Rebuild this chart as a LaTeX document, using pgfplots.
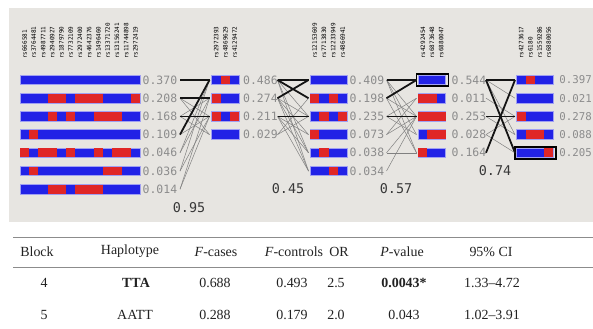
\documentclass[border=0pt]{standalone}
\usepackage{pgfplots}
\pgfplotsset{compat=1.18}
\usepackage{fontspec}
\setmainfont{Liberation Serif}
\newfontfamily\mono{DejaVu Sans Mono}
\definecolor{hb}{HTML}{2222E6}
\definecolor{hr}{HTML}{E02626}
\definecolor{hedge}{HTML}{A0A0F2}
\definecolor{bg}{HTML}{E7E5E1}
\definecolor{lab}{HTML}{8C8C8C}
\definecolor{txt}{HTML}{222222}
% rectangle: x1 x2 ycenter halfheight style
\newcommand{\hrect}[5]{%
  \pgfmathsetmacro\ya{#3-#4}\pgfmathsetmacro\yb{#3+#4}%
  \edef\tmp{\noexpand\addplot[#5] coordinates {(#1,\ya) (#2,\ya) (#2,\yb) (#1,\yb)} -- cycle;}\tmp}
\newcommand{\hapbar}[3]{\hrect{#1}{#2}{#3}{4.8}{fill=hb, draw=hedge, line width=0.8pt}}
\newcommand{\red}[3]{\hrect{#1}{#2}{#3}{4.4}{fill=hr, draw=none}}
\newcommand{\flab}[3]{\node[anchor=west, inner sep=0pt, text=lab, font=\mono\fontsize{11.5}{12}\selectfont] at (axis cs:#1,#2) {#3};}
\newcommand{\flabr}[2]{\node[anchor=east, inner sep=0pt, text=lab, font=\mono\fontsize{10.8}{12}\selectfont] at (axis cs:592,#1) {#2};}
\newcommand{\rs}[2]{\node[rotate=90, anchor=west, inner sep=0pt, font=\mono\fontsize{6}{7}\selectfont] at (axis cs:#1,59) {#2};}
\begin{document}
\begin{tikzpicture}
\begin{axis}[name=ax, width=593bp, height=329bp, scale only axis,
  xmin=0, xmax=593, ymin=0, ymax=329, y dir=reverse, hide axis,
  enlargelimits=false, clip=false,
  thk/.style={black!92, line width=1.8pt},
  thn/.style={black!50, line width=0.5pt}]
% backgrounds
\addplot[fill=white, draw=none] coordinates {(0,0) (593,0) (593,329) (0,329)} -- cycle;
\addplot[fill=bg, draw=none] coordinates {(9,8) (593,8) (593,222) (9,222)} -- cycle;

% ---------- Block 1 (13 SNPs) ----------
\hapbar{20}{140}{80}
\hapbar{20}{140}{98.2}
\hapbar{20}{140}{116.4}
\hapbar{20}{140}{134.6}
\hapbar{20}{140}{152.8}
\hapbar{20}{140}{171}
\hapbar{20}{140}{189.2}
\red{47.69}{66.15}{98.2}\red{75.38}{103.08}{98.2}\red{130.77}{140}{98.2}
\red{47.69}{56.92}{116.4}\red{66.15}{75.38}{116.4}\red{93.85}{121.54}{116.4}
\red{29.23}{38.46}{134.6}
\red{20}{29.23}{152.8}\red{38.46}{56.92}{152.8}\red{66.15}{75.38}{152.8}\red{93.85}{103.08}{152.8}\red{112.31}{130.77}{152.8}
\red{29.23}{38.46}{171}\red{103.08}{121.54}{171}
\red{47.69}{66.15}{189.2}\red{75.38}{103.08}{189.2}
\flab{142.5}{80}{0.370}
\flab{142.5}{98.2}{0.208}
\flab{142.5}{116.4}{0.168}
\flab{142.5}{134.6}{0.109}
\flab{142.5}{152.8}{0.046}
\flab{142.5}{171}{0.036}
\flab{142.5}{189.2}{0.014}
\rs{24.6}{rs666581}\rs{33.8}{rs3764481}\rs{43.1}{rs4987711}\rs{52.3}{rs2940927}
\rs{61.5}{rs1879790}\rs{70.8}{rs7732109}\rs{80}{rs2972400}\rs{89.2}{rs4642376}
\rs{98.5}{rs1496460}\rs{107.7}{rs13371720}\rs{116.9}{rs13156241}\rs{126.2}{rs11744898}
\rs{135.4}{rs2972419}

% ---------- Block 2 (3 SNPs) ----------
\hapbar{211.7}{239.3}{80}
\hapbar{211.7}{239.3}{98.2}
\hapbar{211.7}{239.3}{116.4}
\hapbar{211.7}{239.3}{134.6}
\red{220.9}{230.1}{80}
\red{211.7}{220.9}{98.2}
\red{211.7}{220.9}{116.4}\red{230.1}{239.3}{116.4}
\flab{243}{80}{0.486}
\flab{243}{98.2}{0.274}
\flab{243}{116.4}{0.211}
\flab{243}{134.6}{0.029}
\rs{216.3}{rs2972393}\rs{225.5}{rs4869629}\rs{234.7}{rs4129472}

% ---------- Block 3 (4 SNPs) ----------
\hapbar{310}{347.3}{80}
\hapbar{310}{347.3}{98.2}
\hapbar{310}{347.3}{116.4}
\hapbar{310}{347.3}{134.6}
\hapbar{310}{347.3}{152.8}
\hapbar{310}{347.3}{171}
\red{310}{319.33}{98.2}\red{328.67}{338}{98.2}
\red{319.33}{328.67}{116.4}\red{338}{347.3}{116.4}
\red{310}{319.33}{134.6}
\red{319.33}{328.67}{152.8}
\red{328.67}{338}{171}
\flab{349.5}{80}{0.409}
\flab{349.5}{98.2}{0.198}
\flab{349.5}{116.4}{0.235}
\flab{349.5}{134.6}{0.073}
\flab{349.5}{152.8}{0.038}
\flab{349.5}{171}{0.034}
\rs{314.7}{rs12153609}\rs{324}{rs7713830}\rs{333.3}{rs12233949}\rs{342.7}{rs4866941}

% ---------- Block 4 (3 SNPs) ----------
\hapbar{418.3}{445.7}{80}
\hapbar{418.3}{445.7}{98.2}
\hapbar{418.3}{445.7}{116.4}
\hapbar{418.3}{445.7}{134.6}
\hapbar{418.3}{445.7}{152.8}
\red{418.3}{436.6}{98.2}
\red{418.3}{445.7}{116.4}
\red{427.4}{445.7}{134.6}
\red{418.3}{427.4}{152.8}
\hrect{416.6}{448.6}{80}{6}{draw=black, line width=1.7pt}
\flab{451.5}{80}{0.544}
\flab{451.5}{98.2}{0.011}
\flab{451.5}{116.4}{0.253}
\flab{451.5}{134.6}{0.028}
\flab{451.5}{152.8}{0.164}
\rs{422.9}{rs4292454}\rs{432}{rs6873648}\rs{441.1}{rs6880047}

% ---------- Block 5 (4 SNPs) ----------
\hapbar{516.7}{553.3}{80}
\hapbar{516.7}{553.3}{98.2}
\hapbar{516.7}{553.3}{116.4}
\hapbar{516.7}{553.3}{134.6}
\hapbar{516.7}{553.3}{152.8}
\red{525.85}{535}{80}
\red{516.7}{525.85}{116.4}
\red{525.85}{544.15}{134.6}
\red{544.15}{553.3}{152.8}
\hrect{515.2}{556.3}{152.8}{6}{draw=black, line width=1.7pt}
\flabr{80}{0.397}
\flabr{98.2}{0.021}
\flabr{116.4}{0.278}
\flabr{134.6}{0.088}
\flabr{152.8}{0.205}
\rs{521.3}{rs4273617}\rs{530.4}{rs6180}\rs{539.6}{rs1559286}\rs{548.7}{rs6880056}

% ---------- links 1 -> 2 ----------
\addplot[thn] coordinates {(180,98.2) (209.5,134.6)};
\addplot[thn] coordinates {(180,98.2) (209.5,116.4)};
\addplot[thn] coordinates {(180,116.4) (209.5,98.2)};
\addplot[thn] coordinates {(180,116.4) (209.5,134.6)};
\addplot[thn] coordinates {(180,134.6) (209.5,116.4)};
\addplot[thn] coordinates {(180,152.8) (209.5,80)};
\addplot[thn] coordinates {(180,152.8) (209.5,98.2)};
\addplot[thn] coordinates {(180,171) (209.5,80)};
\addplot[thn] coordinates {(180,171) (209.5,116.4)};
\addplot[thn] coordinates {(180,189.2) (209.5,98.2)};
\addplot[thn] coordinates {(180,189.2) (209.5,116.4)};
\addplot[thk] coordinates {(180,80) (209.5,80)};
\addplot[thk] coordinates {(180,98.2) (209.5,98.2)};
\addplot[thk] coordinates {(180,116.4) (209.5,116.4)};
\addplot[thk] coordinates {(180,134.6) (209.5,80)};

% ---------- links 2 -> 3 ----------
\addplot[thn] coordinates {(277.5,80) (308.5,116.4)};
\addplot[thn] coordinates {(277.5,80) (308.5,152.8)};
\addplot[thn] coordinates {(277.5,80) (308.5,171)};
\addplot[thn] coordinates {(277.5,98.2) (308.5,116.4)};
\addplot[thn] coordinates {(277.5,98.2) (308.5,134.6)};
\addplot[thn] coordinates {(277.5,98.2) (308.5,152.8)};
\addplot[thn] coordinates {(277.5,98.2) (308.5,171)};
\addplot[thn] coordinates {(277.5,116.4) (308.5,134.6)};
\addplot[thn] coordinates {(277.5,116.4) (308.5,152.8)};
\addplot[thn] coordinates {(277.5,116.4) (308.5,171)};
\addplot[thn] coordinates {(277.5,134.6) (308.5,98.2)};
\addplot[thn] coordinates {(277.5,134.6) (308.5,116.4)};
\addplot[thk] coordinates {(277.5,80) (308.5,80)};
\addplot[thk] coordinates {(277.5,80) (308.5,98.2)};
\addplot[thk] coordinates {(277.5,98.2) (308.5,80)};
\addplot[thk] coordinates {(277.5,116.4) (308.5,116.4)};

% ---------- links 3 -> 4 ----------
\addplot[thn] coordinates {(386.5,80) (416.5,116.4)};
\addplot[thn] coordinates {(386.5,80) (416.5,134.6)};
\addplot[thn] coordinates {(386.5,80) (416.5,152.8)};
\addplot[thn] coordinates {(386.5,98.2) (416.5,116.4)};
\addplot[thn] coordinates {(386.5,98.2) (416.5,152.8)};
\addplot[thn] coordinates {(386.5,116.4) (416.5,98.2)};
\addplot[thn] coordinates {(386.5,116.4) (416.5,134.6)};
\addplot[thn] coordinates {(386.5,134.6) (416.5,98.2)};
\addplot[thn] coordinates {(386.5,134.6) (416.5,116.4)};
\addplot[thn] coordinates {(386.5,152.8) (416.5,152.8)};
\addplot[thn] coordinates {(386.5,152.8) (416.5,116.4)};
\addplot[thn] coordinates {(386.5,171) (416.5,116.4)};
\addplot[thk] coordinates {(386.5,80) (416.5,80)};
\addplot[thk] coordinates {(386.5,98.2) (416.5,80)};
\addplot[thk] coordinates {(386.5,116.4) (416.5,116.4)};

% ---------- links 4 -> 5 ----------
\addplot[thn] coordinates {(486,80) (515,98.2)};
\addplot[thn] coordinates {(486,80) (515,134.6)};
\addplot[thn] coordinates {(486,98.2) (515,116.4)};
\addplot[thn] coordinates {(486,116.4) (515,134.6)};
\addplot[thn] coordinates {(486,134.6) (515,116.4)};
\addplot[thn] coordinates {(486,134.6) (515,152.8)};
\addplot[thk] coordinates {(486,80) (515,80)};
\addplot[thk] coordinates {(486,80) (515,152.8)};
\addplot[thk] coordinates {(486,152.8) (515,80)};
\addplot[thk] coordinates {(486,116.4) (515,116.4)};

% multiallelic D'
\node[text=black!78, font=\mono\fontsize{13.5}{14}\selectfont] at (axis cs:189,208) {0.95};
\node[text=black!78, font=\mono\fontsize{13.5}{14}\selectfont] at (axis cs:288,188.7) {0.45};
\node[text=black!78, font=\mono\fontsize{13.5}{14}\selectfont] at (axis cs:396,188.7) {0.57};
\node[text=black!78, font=\mono\fontsize{13.5}{14}\selectfont] at (axis cs:495,170.7) {0.74};

% ---------- table ----------
\addplot[black!45, line width=1.4pt] coordinates {(13,237.5) (593,237.5)};
\addplot[black!45, line width=1.4pt] coordinates {(13,267.5) (593,267.5)};
\begin{scope}[every node/.style={text=txt, inner sep=0pt, font=\fontsize{14}{16}\selectfont}]
\node at (axis cs:37,251.5) {Block};
\node at (axis cs:130,251.5) {Haplotype};
\node at (axis cs:216,251.5) {\textit{F}-cases};
\node at (axis cs:294,251.5) {\textit{F}-controls};
\node at (axis cs:339,251.5) {OR};
\node at (axis cs:402,251.5) {\textit{P}-value};
\node at (axis cs:491,251.5) {95\% CI};
\node at (axis cs:44,282.5) {4};
\node at (axis cs:136,282.5) {\textbf{TTA}};
\node at (axis cs:215,282.5) {0.688};
\node at (axis cs:292,282.5) {0.493};
\node at (axis cs:336,282.5) {2.5};
\node at (axis cs:404,282.5) {\textbf{0.0043*}};
\node at (axis cs:492,282.5) {1.33--4.72};
\node at (axis cs:44,314.5) {5};
\node at (axis cs:135,314.5) {AATT};
\node at (axis cs:215,314.5) {0.288};
\node at (axis cs:292,314.5) {0.179};
\node at (axis cs:336,314.5) {2.0};
\node at (axis cs:404,314.5) {0.043};
\node at (axis cs:492,314.5) {1.02--3.91};
\end{scope}
\end{axis}
\pgfresetboundingbox
\useasboundingbox (ax.south west) rectangle (ax.north east);
\end{tikzpicture}
\end{document}
